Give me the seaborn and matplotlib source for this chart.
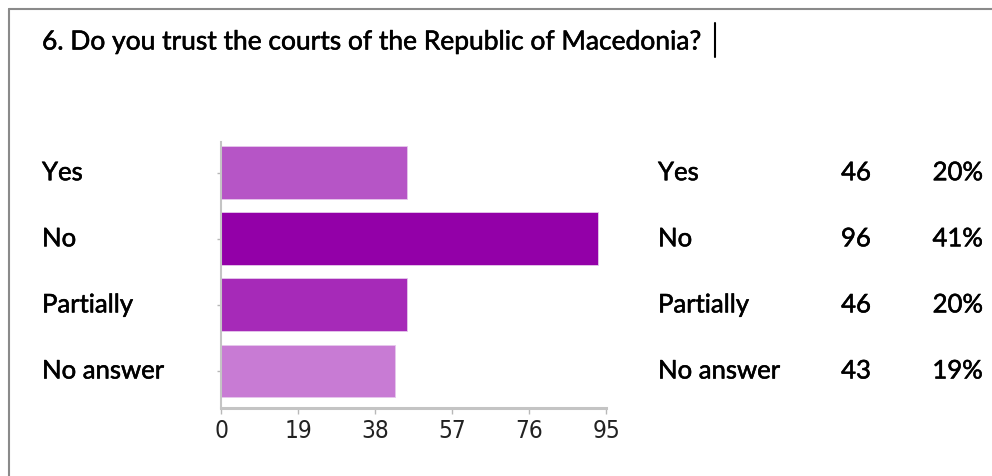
import matplotlib
matplotlib.use("Agg")
import matplotlib.pyplot as plt
import matplotlib.transforms as mtransforms
import matplotlib.patheffects as pe
import seaborn as sns
import pandas as pd

# ---- data ----
categories = ["Yes", "No", "Partially", "No answer"]
bar_values = [46, 93, 46, 43]          # bar lengths as drawn
counts = [46, 96, 46, 43]              # table counts
percents = ["20%", "41%", "20%", "19%"]
bar_colors = ["#B655C6", "#9300A8", "#A62AB8", "#C87BD4"]
x_ticks = [0, 19, 38, 57, 76, 95]
title = "6. Do you trust the courts of the Republic of Macedonia?"

sns.set_theme(style="white")
plt.rcParams["font.family"] = ["Lato", "DejaVu Sans"]

W, H = 992, 476
fig = plt.figure(figsize=(W / 100, H / 100), dpi=100)
fig.patch.set_facecolor("white")

# axes placement in pixels
x0, x1 = 221, 606
y_top, y_bot = 142, 408
ax = fig.add_axes([x0 / W, 1 - y_bot / H, (x1 - x0) / W, (y_bot - y_top) / H])

df = pd.DataFrame({"cat": categories, "val": bar_values})
sns.barplot(data=df, x="val", y="cat", hue="cat", palette=bar_colors,
            legend=False, width=0.8, orient="h", ax=ax, saturation=1,
            edgecolor="#e6c8ec", linewidth=0.6)

ax.set_xlim(0, 95)
ax.set_ylim(3.56, -0.465)
ax.set_xticks(x_ticks)
ax.set_xticklabels([str(t) for t in x_ticks], fontfamily="DejaVu Sans",
                   fontstretch="condensed", fontsize=17.5, color="#222222")
ax.set_yticks(range(len(categories)))
ax.set_yticklabels([])
ax.set_xlabel("")
ax.set_ylabel("")
for s in ["top", "right"]:
    ax.spines[s].set_visible(False)
ax.spines["left"].set_color("#c4c4c4")
ax.spines["left"].set_linewidth(1.5)
ax.spines["bottom"].set_color("#c4c4c4")
ax.spines["bottom"].set_linewidth(2.2)
ax.tick_params(axis="x", length=4, width=1, color="#b8b8b8", pad=4, bottom=True)
ax.tick_params(axis="y", length=3, width=1, color="#b8b8b8", left=True)

FS = 18.5
bold = [pe.withStroke(linewidth=0.4, foreground="black")]
# left category labels and right table
trans = mtransforms.blended_transform_factory(fig.transFigure, ax.transData)
for i, cat in enumerate(categories):
    kw = dict(transform=trans, va="center", fontsize=FS, color="black",
              clip_on=False, path_effects=bold)
    ax.text(42 / W, i, cat, ha="left", **kw)
    ax.text(658 / W, i, cat, ha="left", **kw)
    ax.text(871 / W, i, str(counts[i]), ha="right", **kw)
    ax.text(983 / W, i, percents[i], ha="right", **kw)

# title
fig.text(42 / W, 1 - 42 / H, title, ha="left", va="center", fontsize=19,
         color="black", path_effects=bold)
# text cursor after title
fig.add_artist(plt.Line2D([715 / W, 715 / W], [1 - 23 / H, 1 - 57 / H],
                          transform=fig.transFigure, color="black", lw=1.5))

# outer frame (left and top edges)
fig.add_artist(plt.Line2D([9 / W, 9 / W], [0, 1 - 9 / H],
                          transform=fig.transFigure, color="#8a8a8a", lw=1.5))
fig.add_artist(plt.Line2D([9 / W, 1], [1 - 9 / H, 1 - 9 / H],
                          transform=fig.transFigure, color="#8a8a8a", lw=1.5))

fig.savefig("out.png", dpi=100, facecolor="white")
